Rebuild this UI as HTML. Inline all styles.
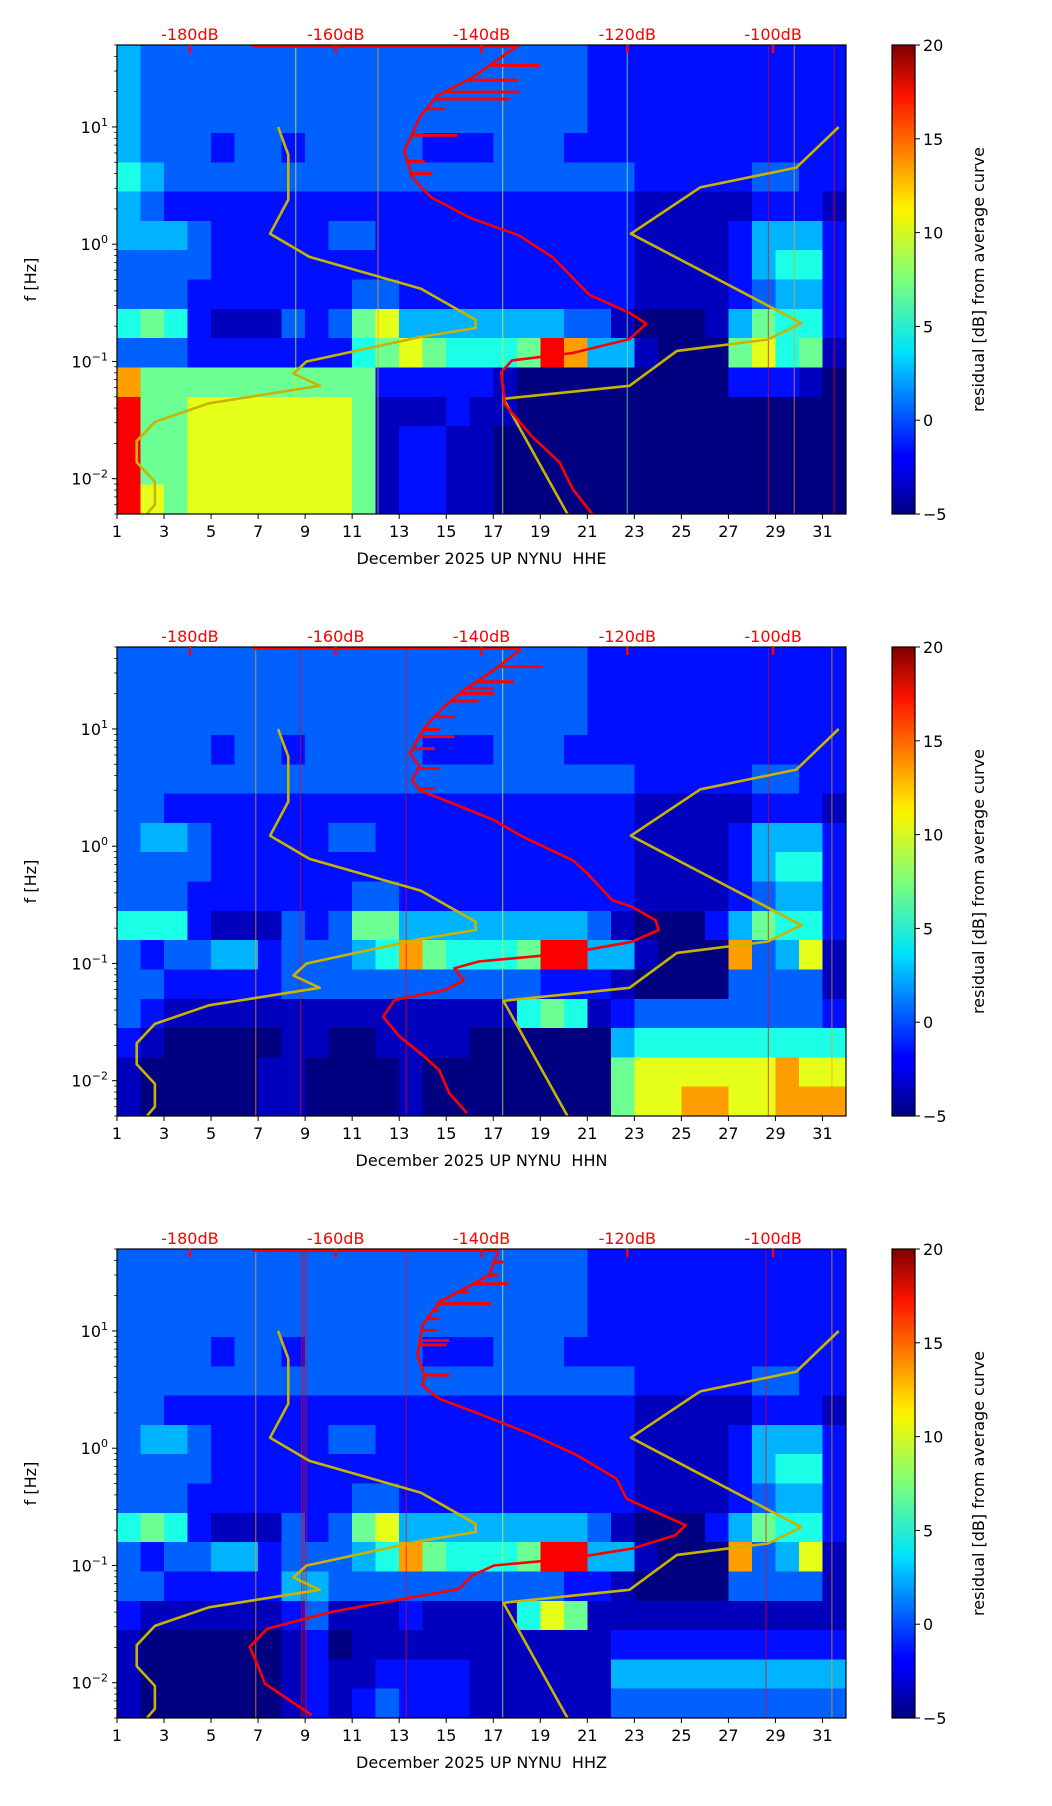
<!DOCTYPE html>
<html><head><meta charset="utf-8"><title>Residual spectrograms NYNU December 2025</title>
<style>
html,body{margin:0;padding:0;background:#fff;}
svg{display:block;font-family:"DejaVu Sans","Liberation Sans",sans-serif;}
</style></head>
<body>
<svg id="fig" width="1052" height="1806" viewBox="0 0 1052 1806" xmlns="http://www.w3.org/2000/svg">
<defs>
<linearGradient id="jet" x1="0" y1="1" x2="0" y2="0">
<stop offset="0" stop-color="#00007f"/><stop offset="0.11" stop-color="#0000ff"/><stop offset="0.125" stop-color="#0000ff"/>
<stop offset="0.34" stop-color="#00dcff"/><stop offset="0.35" stop-color="#00e4f8"/><stop offset="0.5" stop-color="#7cff7a"/>
<stop offset="0.64" stop-color="#f8f500"/><stop offset="0.66" stop-color="#ffea00"/><stop offset="0.89" stop-color="#ff1300"/>
<stop offset="1" stop-color="#7f0000"/>
</linearGradient>
</defs>
</svg>
<script>
// ---------- data ----------
const panelTitles = ["December 2025 UP NYNU  HHE","December 2025 UP NYNU  HHN","December 2025 UP NYNU  HHZ"];
const dayTicks = [1,3,5,7,9,11,13,15,17,19,21,23,25,27,29,31];
const dbTicks = [-180,-160,-140,-120,-100];
const cbTicks = [-5,0,5,10,15,20];
const freqDecades = [-2,-1,0,1];
const levelValues = [-5,-3.5,-1.5,0.5,2.5,5,7,10,13,17];
// heatmap rows: 16 bands (quarter decades, top to bottom), 31 day columns
const heatE = [
[4,3,3,3,3,3,3,3,3,3,3,3,3,3,3,3,3,3,3,3,2,2,2,2,2,2,2,2,2,2,2],
[4,3,3,3,3,3,3,3,3,3,3,3,3,3,3,3,3,3,3,3,2,2,2,2,2,2,2,2,2,2,2],
[4,3,3,3,3,3,3,3,3,3,3,3,3,3,3,3,3,3,3,3,2,2,2,2,2,2,2,2,2,2,2],
[4,3,3,3,2,3,3,2,3,3,3,3,3,2,2,2,3,3,3,2,2,2,2,2,2,2,2,2,2,2,2],
[5,4,3,3,3,3,3,3,3,3,3,3,3,3,3,3,3,3,3,3,3,3,2,2,2,2,2,3,3,2,2],
[4,3,2,2,2,2,2,2,2,2,2,2,2,2,2,2,2,2,2,2,2,2,1,1,1,1,1,2,2,2,1],
[4,4,4,3,2,2,2,2,2,3,3,2,2,2,2,2,2,2,2,2,2,2,1,1,1,1,2,4,4,4,2],
[3,3,3,3,2,2,2,2,2,2,2,2,2,2,2,2,2,2,2,2,2,2,1,1,1,1,2,4,5,5,2],
[3,3,3,2,2,2,2,2,2,2,3,3,2,2,2,2,2,2,2,2,2,2,1,1,1,1,2,3,4,4,2],
[5,6,5,2,1,1,1,3,2,3,6,7,4,4,4,4,4,4,4,3,3,1,0,0,0,1,4,6,5,5,2],
[3,3,3,2,2,2,2,2,2,2,5,6,7,6,5,5,5,6,9,8,4,4,1,0,0,0,6,7,5,6,1],
[8,6,6,6,6,6,6,6,6,6,6,2,2,2,2,2,1,0,0,0,0,0,0,0,0,0,2,2,2,1,0],
[9,6,6,7,7,7,7,7,7,7,6,1,1,1,2,1,1,0,0,0,0,0,0,0,0,0,0,0,0,0,0],
[9,6,6,7,7,7,7,7,7,7,6,1,2,2,1,1,0,0,0,0,0,0,0,0,0,0,0,0,0,0,0],
[9,6,6,7,7,7,7,7,7,7,6,1,2,2,1,1,0,0,0,0,0,0,0,0,0,0,0,0,0,0,0],
[9,7,6,7,7,7,7,7,7,7,6,1,2,2,1,1,0,0,0,0,0,0,0,0,0,0,0,0,0,0,0]];
const heatN = [
[3,3,3,3,3,3,3,3,3,3,3,3,3,3,3,3,3,3,3,3,2,2,2,2,2,2,2,2,2,2,2],
[3,3,3,3,3,3,3,3,3,3,3,3,3,3,3,3,3,3,3,3,2,2,2,2,2,2,2,2,2,2,2],
[3,3,3,3,3,3,3,3,3,3,3,3,3,3,3,3,3,3,3,3,2,2,2,2,2,2,2,2,2,2,2],
[3,3,3,3,2,3,3,2,3,3,3,3,3,2,2,2,3,3,3,2,2,2,2,2,2,2,2,2,2,2,2],
[3,3,3,3,3,3,3,3,3,3,3,3,3,3,3,3,3,3,3,3,3,3,2,2,2,2,2,3,3,2,2],
[3,3,2,2,2,2,2,2,2,2,2,2,2,2,2,2,2,2,2,2,2,2,1,1,1,1,1,2,2,2,1],
[3,4,4,3,2,2,2,2,2,3,3,2,2,2,2,2,2,2,2,2,2,2,1,1,1,1,2,4,4,4,2],
[3,3,3,3,2,2,2,2,2,2,2,2,2,2,2,2,2,2,2,2,2,2,1,1,1,1,2,4,5,5,2],
[3,3,3,2,2,2,2,2,2,2,3,3,2,2,2,2,2,2,2,2,2,2,1,1,1,1,2,3,4,4,2],
[5,5,5,2,1,1,1,3,2,3,6,6,4,4,4,4,4,4,4,4,3,1,0,0,0,2,4,6,5,5,2],
[3,2,3,3,4,4,2,3,3,3,4,5,8,6,5,5,5,6,9,9,4,4,1,0,0,0,8,3,4,7,1],
[3,3,2,2,2,2,2,3,3,3,3,3,3,3,3,3,3,3,2,2,2,1,0,0,0,0,3,3,3,3,1],
[3,2,1,1,1,1,1,1,1,1,1,1,1,1,1,1,1,5,6,5,1,2,3,3,3,3,3,3,3,3,2],
[2,1,0,0,0,0,0,1,1,0,0,1,1,1,1,0,0,0,0,0,0,4,5,5,5,5,5,5,5,5,5],
[1,0,0,0,0,0,1,1,0,0,0,0,1,0,0,0,0,0,0,0,0,6,7,7,7,7,7,7,8,7,7],
[1,0,0,0,0,0,1,1,0,0,0,0,1,0,0,0,0,0,0,0,0,6,7,7,8,8,7,7,8,8,8]];
const heatZ = [
[3,3,3,3,3,3,3,3,3,3,3,3,3,3,3,3,3,3,3,3,2,2,2,2,2,2,2,2,2,2,2],
[3,3,3,3,3,3,3,3,3,3,3,3,3,3,3,3,3,3,3,3,2,2,2,2,2,2,2,2,2,2,2],
[3,3,3,3,3,3,3,3,3,3,3,3,3,3,3,3,3,3,3,3,2,2,2,2,2,2,2,2,2,2,2],
[3,3,3,3,2,3,3,2,3,3,3,3,3,2,2,2,3,3,3,2,2,2,2,2,2,2,2,2,2,2,2],
[3,3,3,3,3,3,3,3,3,3,3,3,3,3,3,3,3,3,3,3,3,3,2,2,2,2,2,3,3,2,2],
[3,3,2,2,2,2,2,2,2,2,2,2,2,2,2,2,2,2,2,2,2,2,1,1,1,1,1,2,2,2,1],
[3,4,4,3,2,2,2,2,2,3,3,2,2,2,2,2,2,2,2,2,2,2,1,1,1,1,2,4,4,4,2],
[3,3,3,3,2,2,2,2,2,2,2,2,2,2,2,2,2,2,2,2,2,2,1,1,1,1,2,4,5,5,2],
[3,3,3,2,2,2,2,2,2,2,3,3,2,2,2,2,2,2,2,2,2,2,1,1,1,1,2,3,4,4,2],
[5,6,5,2,1,1,1,3,2,3,6,7,4,4,4,4,4,4,4,4,3,1,0,0,0,2,4,6,5,5,2],
[3,2,3,3,4,4,2,3,3,3,4,5,8,6,5,5,5,6,9,9,4,4,1,0,0,0,8,3,4,7,1],
[3,3,2,2,2,2,2,4,4,3,3,3,3,3,3,3,3,3,3,2,2,1,0,0,0,0,3,3,3,3,1],
[2,1,1,1,1,1,1,2,3,1,1,1,2,1,1,1,1,5,7,6,1,1,1,1,1,1,1,1,1,1,1],
[1,0,0,0,0,0,0,1,2,0,1,1,1,1,1,1,1,1,1,1,1,2,2,2,2,2,2,2,2,2,2],
[1,0,0,0,0,0,0,1,2,1,1,2,2,2,2,1,1,1,1,1,1,4,4,4,4,4,4,4,4,4,4],
[1,0,0,0,0,0,0,1,2,1,2,3,2,2,2,1,1,1,1,1,1,3,3,3,3,3,3,3,3,3,3]];
// thin vertical event lines: day position, level code
const linesEDay = [8.6,17.4,22.7,28.7,29.8,31.5,12.1];
const linesELvl = [7,7,6,9,8,9,8];
const linesNDay = [6.9,8.8,13.3,17.4,28.7,31.4];
const linesNLvl = [8,9,9,7,9,8];
const linesZDay = [6.9,8.85,8.95,9.05,13.3,17.4,28.6,31.4];
const linesZLvl = [8,9,9,9,9,7,9,8];
// red PSD curves (Hz, dB)
const redEFreq = [50,26,18.6,12.4,6.2,3.7,2.5,1.66,1.19,0.78,0.37,0.26,0.21,0.155,0.118,0.102,0.081,0.043,0.023,0.0138,0.0082,0.005];
const redEDb = [-134.9,-141.4,-146,-148.4,-150.6,-149.5,-146.9,-141.4,-134.9,-130.3,-125.2,-119.7,-117.4,-119.7,-127.5,-135.8,-137.3,-136.8,-133.1,-129.3,-127.5,-124.8];
const redNFreq = [48,31.8,21.5,15.5,10.4,6.2,4.8,3.67,3.0,2.48,1.67,1.2,0.76,0.587,0.348,0.305,0.234,0.193,0.153,0.122,0.104,0.091,0.072,0.059,0.049,0.035,0.0237,0.016,0.0123,0.0078,0.0053];
const redNDb = [-134.6,-138.3,-142.4,-145.1,-147.8,-149.8,-148.5,-149.5,-148.5,-145.1,-138.3,-134.3,-127.5,-125.5,-122.1,-119.4,-116.1,-115.7,-119.4,-128.2,-140.4,-143.7,-142.4,-145.1,-151.9,-153.5,-151.2,-147.8,-145.8,-144.4,-142.0];
const redZFreq = [47.9,29.9,22.9,17.7,11.2,6.2,4.19,3.44,2.64,2.04,1.29,0.871,0.55,0.371,0.286,0.22,0.181,0.139,0.114,0.1,0.082,0.063,0.0505,0.0401,0.0289,0.0202,0.0141,0.0098,0.0053];
const redZDb = [-137.7,-139.0,-142.4,-145.8,-148.1,-148.8,-147.8,-148.1,-145.8,-141.0,-132.9,-126.9,-121.5,-120.1,-116.1,-112.0,-113.4,-119.4,-128.2,-138.3,-141.3,-143.1,-151.8,-160.6,-169.4,-171.8,-170.7,-169.7,-163.3];
// spikes on red curves
const spikeEFreq = [33.5,25.1,19.8,17.3,14.3,8.5,5.1,4.0];
const spikeEDb = [-132,-135,-134.8,-136.2,-145,-143.3,-147.8,-146.8];
const spikeNFreq = [34,25.3,22.2,20.1,17.3,12.7,9.9,8.6,6.8,4.6,3.1];
const spikeNDb = [-131.6,-135.6,-138.3,-138.3,-140.4,-143.7,-145.8,-143.7,-146.4,-145.8,-146.4];
const spikeZFreq = [38.7,29.9,25.3,21.5,17.1,15,12.7,10.1,8.3,7.6,4.2];
const spikeZDb = [-137,-137.7,-136.3,-141.7,-138.7,-145.8,-145.8,-146.1,-144.4,-144.8,-144.4];
const topLineDb = -171.4;
// noise models (yellow)
const nlnmFreq = [10,5.8,2.4,1.23,0.78,0.417,0.226,0.193,0.162,0.1,0.079,0.062,0.044,0.0305,0.0209,0.0138,0.0094,0.006,0.005];
const nlnmDb = [-167.9,-166.5,-166.5,-169,-163.6,-148.3,-140.8,-140.8,-148.3,-164,-165.8,-162.2,-177.4,-184.8,-187.3,-187.3,-184.8,-184.8,-185.9];
const nhnmFreq = [10,4.5,3.05,1.23,0.212,0.154,0.123,0.062,0.048,0.005];
const nhnmDb = [-91,-96.8,-110,-119.5,-96.1,-100.7,-113.2,-119.7,-137,-128.2];

// ---------- drawing ----------
const NS = "http://www.w3.org/2000/svg";
const svg = document.getElementById('fig');
const L = 117, W = 729, H = 469, TOP0 = 45, STEP = 602;
const DAY0 = 1, DAY1 = 32, LOGTOP = Math.log10(50), LOGBOT = Math.log10(0.005);
const DB0 = -190, DB1 = -90, CBX = 892, CBW = 23, CMIN = -5, CMAX = 20;
function xDay(d){ return L + (d - DAY0) / (DAY1 - DAY0) * W; }
function xDb(db){ return L + (db - DB0) / (DB1 - DB0) * W; }
function yF(top, f){ return top + (LOGTOP - Math.log10(f)) / (LOGTOP - LOGBOT) * H; }
function yC(top, v){ return top + H - (v - CMIN) / (CMAX - CMIN) * H; }
function jet(v){
  const t = Math.max(0, Math.min(1, (v - CMIN) / (CMAX - CMIN)));
  const c = k => Math.round(255 * Math.max(0, Math.min(1, 1.5 - Math.abs(4 * t - k))));
  return `rgb(${c(3)},${c(2)},${c(1)})`;
}
function el(tag, attrs, parent){
  const e = document.createElementNS(NS, tag);
  for (const k in attrs) e.setAttribute(k, attrs[k]);
  (parent || svg).appendChild(e);
  return e;
}
function interpDb(fr, db, f){
  const lf = Math.log10(f);
  for (let i = 0; i < fr.length - 1; i++){
    const a = Math.log10(fr[i]), b = Math.log10(fr[i+1]);
    if ((lf <= a && lf >= b)) return db[i] + (db[i+1] - db[i]) * (lf - a) / (b - a);
  }
  return db[0];
}

const heats = [heatE, heatN, heatZ];
const vDays = [linesEDay, linesNDay, linesZDay];
const vLvls = [linesELvl, linesNLvl, linesZLvl];
const reds = [[redEFreq, redEDb],[redNFreq, redNDb],[redZFreq, redZDb]];
const spikes = [[spikeEFreq, spikeEDb],[spikeNFreq, spikeNDb],[spikeZFreq, spikeZDb]];
const bandsPerDecade = 4;

for (let p = 0; p < 3; p++){
  const top = TOP0 + p * STEP;
  const g = el('g', {});
  
  
  const clip = el('clipPath', {id: 'clip' + p}, g);
  el('rect', {x: L, y: top, width: W, height: H}, clip);

  // heatmap
  const hm = el('g', {'shape-rendering': 'crispEdges'}, g);
  
  
  const heat = heats[p];
  for (let r = 0; r < heat.length; r++){
    const fHi = Math.pow(10, LOGTOP - r / bandsPerDecade);
    const fLo = Math.pow(10, LOGTOP - (r + 1) / bandsPerDecade);
    for (let c = 0; c < heat[r].length; c++){
      const x0 = xDay(DAY0 + c), x1 = xDay(DAY0 + c + 1);
      const y0 = yF(top, fHi), y1 = yF(top, fLo);
      const cell = el('rect', {x: x0, y: y0, width: x1 - x0 + 0.6, height: y1 - y0 + 0.6, fill: jet(levelValues[heat[r][c]])}, hm);
      
      
    }
  }
  // event lines
  for (let i = 0; i < vDays[p].length; i++){
    const ln = el('rect', {x: xDay(vDays[p][i]) - 0.6, y: top, width: 1.2, height: H, fill: jet(levelValues[vLvls[p][i]]), opacity: 0.6}, g);
    
    
  }

  const cg = el('g', {'clip-path': `url(#clip${p})`}, g);
  // noise models
  [[nlnmFreq, nlnmDb, 'nlnm-curve'], [nhnmFreq, nhnmDb, 'nhnm-curve']].forEach(([fr, db, nm]) => {
    const pts = fr.map((f, i) => `${xDb(db[i]).toFixed(1)},${yF(top, f).toFixed(1)}`).join(' ');
    const pl = el('polyline', {points: pts, fill: 'none', stroke: '#c8b400', 'stroke-width': 2.6, 'stroke-linejoin': 'round'}, cg);
    
    
  });
  // red curve
  const [rf, rd] = reds[p];
  const topL = el('line', {x1: xDb(topLineDb), x2: xDb(rd[0]), y1: top + 1.5, y2: top + 1.5, stroke: '#ff0000', 'stroke-width': 3}, cg);
  
  
  const rp = el('polyline', {points: rf.map((f, i) => `${xDb(rd[i]).toFixed(1)},${yF(top, f).toFixed(1)}`).join(' '), fill: 'none', stroke: '#ff0000', 'stroke-width': 2.6, 'stroke-linejoin': 'round'}, cg);
  
  
  const [sf, sd] = spikes[p];
  for (let i = 0; i < sf.length; i++){
    const y = yF(top, sf[i]);
    const sp = el('line', {x1: xDb(interpDb(rf, rd, sf[i])), x2: xDb(sd[i]), y1: y, y2: y, stroke: '#ff0000', 'stroke-width': 3}, cg);
    
    
  }

  // frame
  const fr = el('rect', {x: L, y: top, width: W, height: H, fill: 'none', stroke: '#000', 'stroke-width': 1.2}, g);
  
  

  // x ticks
  const xa = el('g', {}, g);
  
  
  dayTicks.forEach(d => {
    const x = xDay(d);
    el('line', {x1: x, x2: x, y1: top + H, y2: top + H + 5, stroke: '#000', 'stroke-width': 1}, xa);
    const t = el('text', {x: x, y: top + H + 23, 'font-size': 16, 'text-anchor': 'middle', fill: '#000'}, xa);
    t.textContent = d;
    
    
  });
  const xt = el('text', {x: L + W / 2, y: top + H + 50, 'font-size': 16, 'text-anchor': 'middle', fill: '#000', style: 'white-space:pre'}, g);
  xt.textContent = panelTitles[p];
  
  

  // y ticks
  const ya = el('g', {}, g);
  
  
  for (let dec = -3; dec <= 1; dec++){
    for (let m = 1; m <= 9; m++){
      const f = m * Math.pow(10, dec);
      if (f < 0.005 || f > 50) continue;
      const y = yF(top, f);
      const len = m === 1 ? 5 : 2.8;
      el('line', {x1: L - len, x2: L, y1: y, y2: y, stroke: '#000', 'stroke-width': m === 1 ? 1 : 0.8}, ya);
    }
  }
  freqDecades.forEach(dec => {
    const y = yF(top, Math.pow(10, dec));
    const t = el('text', {x: L - 9, y: y + 6, 'font-size': 16, 'text-anchor': 'end', fill: '#000'}, ya);
    
    
    const base = document.createElementNS(NS, 'tspan'); base.textContent = '10'; t.appendChild(base);
    const sup = document.createElementNS(NS, 'tspan');
    sup.setAttribute('dy', -7); sup.setAttribute('font-size', 11);
    sup.textContent = String(dec).replace('-', '\u2212');
    t.appendChild(sup);
  });
  const yt = el('text', {x: 0, y: 0, 'font-size': 16, 'text-anchor': 'middle', fill: '#000', transform: `translate(36,${top + H / 2}) rotate(-90)`}, g);
  yt.textContent = 'f [Hz]';
  
  

  // top dB axis
  const ta = el('g', {}, g);
  
  
  dbTicks.forEach(db => {
    const x = xDb(db);
    el('line', {x1: x, x2: x, y1: top, y2: top + 8, stroke: '#ff0000', 'stroke-width': 2.4}, ta);
    const t = el('text', {x: x, y: top - 5, 'font-size': 16, 'text-anchor': 'middle', fill: '#ff0000'}, ta);
    t.textContent = db + 'dB';
    
    
  });

  // colorbar
  const cb = el('g', {}, g);
  
  
  el('rect', {x: CBX, y: top, width: CBW, height: H, fill: 'url(#jet)', stroke: '#000', 'stroke-width': 1.2}, cb);
  cbTicks.forEach(v => {
    const y = yC(top, v);
    el('line', {x1: CBX + CBW, x2: CBX + CBW + 5, y1: y, y2: y, stroke: '#000', 'stroke-width': 1}, cb);
    const t = el('text', {x: CBX + CBW + 8, y: y + 6, 'font-size': 16, fill: '#000'}, cb);
    t.textContent = String(v).replace('-', '\u2212');
    
    
  });
  const ct = el('text', {x: 0, y: 0, 'font-size': 16, 'text-anchor': 'middle', fill: '#000', transform: `translate(984,${top + H / 2}) rotate(-90)`}, cb);
  ct.textContent = 'residual [dB] from average curve';
  
  
}
</script>
</body></html>
